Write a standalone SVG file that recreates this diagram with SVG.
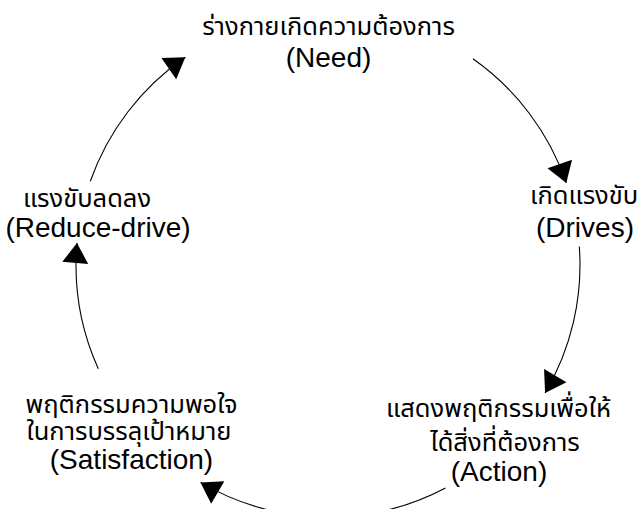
<svg xmlns="http://www.w3.org/2000/svg" width="643" height="509" viewBox="0 0 643 509">
<style>
.t{font-family:"Liberation Sans","Noto Sans Thai","Loma","Garuda","Noto Sans",sans-serif;font-size:28px;fill:#000;text-anchor:middle}
.th{font-size:25.5px}
.c{fill:none;stroke:#000;stroke-width:1.1}
</style>
<defs>
<marker id="ah" markerUnits="userSpaceOnUse" markerWidth="20" markerHeight="26" viewBox="0 0 20 26" refX="20" refY="13" orient="auto" overflow="visible">
<path d="M0,0 L20,13 L0,26 z" fill="#000"/>
</marker>
</defs>
<rect width="643" height="509" fill="#fff"/>
<g id="connectors">
<path class="c" marker-end="url(#ah)" d="M472.9,58.8 A252,252 0 0 1 566.3,182.9"/>
<path class="c" marker-end="url(#ah)" d="M579.3,246.5 A252,252 0 0 1 545.1,392.9"/>
<path class="c" marker-end="url(#ah)" d="M445.5,487.9 A252,252 0 0 1 200.5,482.4"/>
<path class="c" marker-end="url(#ah)" d="M98.3,368.7 A252,252 0 0 1 77,243"/>
<path class="c" marker-end="url(#ah)" d="M90.3,181.3 A252,252 0 0 1 185.3,57.3"/>
</g>
<g id="need">
<text class="t th" x="328.5" y="35">ร่างกายเกิดความต้องการ</text>
<text class="t" x="328.5" y="67">(Need)</text>
</g>
<g id="drives">
<text class="t th" x="584" y="204">เกิดแรงขับ</text>
<text class="t" x="585" y="237">(Drives)</text>
</g>
<g id="action">
<text class="t th" x="498.5" y="417">แสดงพฤติกรรมเพื่อให้</text>
<text class="t th" x="505" y="451">ได้สิ่งที่ต้องการ</text>
<text class="t" x="499" y="481">(Action)</text>
</g>
<g id="satisfaction">
<text class="t th" x="131.5" y="413">พฤติกรรมความพอใจ</text>
<text class="t th" x="129" y="440">ในการบรรลุเป้าหมาย</text>
<text class="t" x="131.5" y="469">(Satisfaction)</text>
</g>
<g id="reduce">
<text class="t th" x="87" y="207">แรงขับลดลง</text>
<text class="t" x="98" y="237">(Reduce-drive)</text>
</g>
</svg>
